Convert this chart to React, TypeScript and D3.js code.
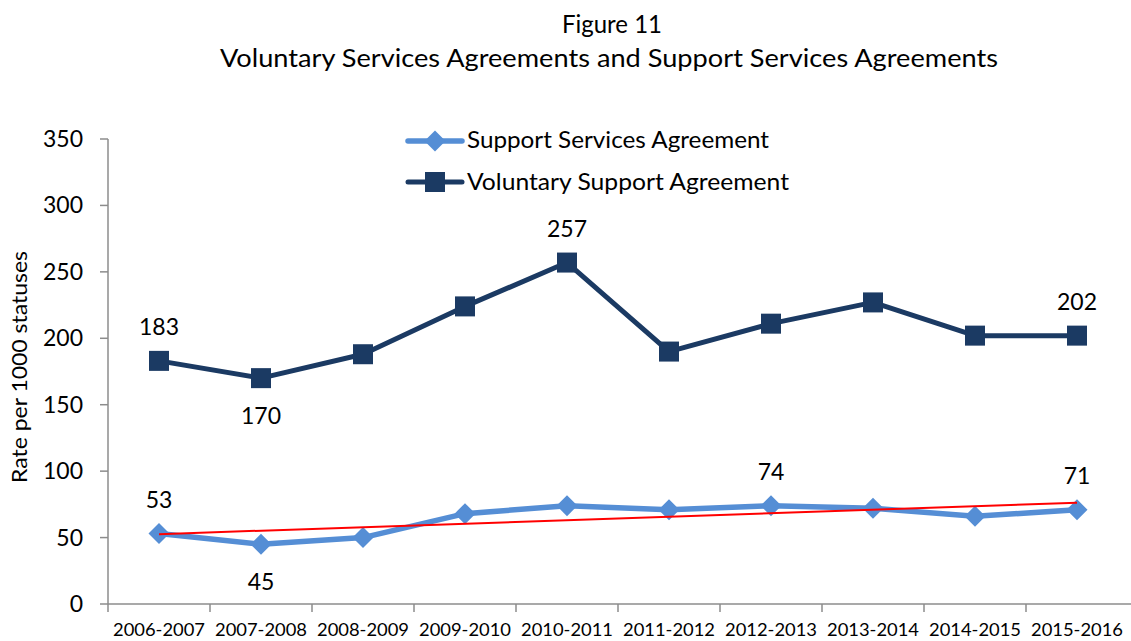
import React from "react";
import * as d3 from "d3";

const categories = [
  "2006-2007", "2007-2008", "2008-2009", "2009-2010", "2010-2011",
  "2011-2012", "2012-2013", "2013-2014", "2014-2015", "2015-2016",
];
const supportServices = [53, 45, 50, 68, 74, 71, 74, 72, 66, 71];
const voluntarySupport = [183, 170, 188, 224, 257, 190, 211, 227, 202, 202];
const yTicks = [0, 50, 100, 150, 200, 250, 300, 350];

// indices of data labels shown, and whether above or below
const vsaLabels: [number, "above" | "below"][] = [[0, "above"], [1, "below"], [4, "above"], [9, "above"]];
const ssaLabels: [number, "above" | "below"][] = [[0, "above"], [1, "below"], [6, "above"], [9, "above"]];

const FONT = "Lato, 'Open Sans', sans-serif";
const SSA_COLOR = "#558ED5";
const VSA_COLOR = "#1B3A63";
const AXIS_COLOR = "#8C8C8C";

export default function App() {
  const W = 1131, H = 641;
  const x = d3.scalePoint<string>().domain(categories).range([108, 1128]).padding(0.5);
  const y = d3.scaleLinear().domain([0, 350]).range([604, 139]);
  const step = x.step();

  const line = d3.line<number>().x((_, i) => x(categories[i])!).y((d) => y(d));

  // linear trend for support services
  const n = supportServices.length;
  const mx = d3.mean(d3.range(n))!;
  const my = d3.mean(supportServices)!;
  const sxy = d3.sum(supportServices, (v, i) => (i - mx) * (v - my));
  const sxx = d3.sum(d3.range(n), (i) => (i - mx) * (i - mx));
  const slope = sxy / sxx;
  const icpt = my - slope * mx;
  const trendStart = icpt;
  const trendEnd = icpt + slope * (n - 1);

  const diamond = (cx: number, cy: number, r: number) =>
    `M${cx},${cy - r}L${cx + r},${cy}L${cx},${cy + r}L${cx - r},${cy}Z`;

  const labelDy = (pos: "above" | "below") => (pos === "above" ? -26 : 46);

  return (
    <svg width={W} height={H} style={{ position: "absolute", left: 0, top: 0, background: "#fff" }}
      fontFamily={FONT}>
      <rect x={0} y={0} width={W} height={H} fill="#fff" />
      {/* Title */}
      <text x={612} y={33} textAnchor="middle" fontSize={25} fill="#000" textLength={100} lengthAdjust="spacingAndGlyphs">Figure 11</text>
      <text x={609} y={67} textAnchor="middle" fontSize={25} fill="#000" textLength={778} lengthAdjust="spacingAndGlyphs">
        Voluntary Services Agreements and Support Services Agreements
      </text>

      {/* Y axis */}
      <line x1={108} x2={108} y1={y(350)} y2={y(0)} stroke={AXIS_COLOR} strokeWidth={1.5} />
      {yTicks.map((t) => (
        <g key={t}>
          <line x1={100} x2={108} y1={y(t)} y2={y(t)} stroke={AXIS_COLOR} strokeWidth={1.5} />
          <text x={83} y={y(t) + 8} textAnchor="end" fontSize={23} fill="#000">{t}</text>
        </g>
      ))}
      <text transform={`translate(27,367) rotate(-90)`} textAnchor="middle" fontSize={22} fill="#000"
        textLength={232} lengthAdjust="spacingAndGlyphs">Rate per 1000 statuses</text>

      {/* X axis */}
      <line x1={108} x2={W} y1={y(0)} y2={y(0)} stroke={AXIS_COLOR} strokeWidth={1.5} />
      {categories.map((c) => (
        <line key={"t" + c} x1={x(c)! - step / 2} x2={x(c)! - step / 2} y1={y(0)} y2={y(0) + 8}
          stroke={AXIS_COLOR} strokeWidth={1.5} />
      ))}
      {categories.map((c) => (
        <text key={"l" + c} x={x(c)!} y={636} textAnchor="middle" fontSize={17.5} fill="#000"
          textLength={92} lengthAdjust="spacingAndGlyphs">{c}</text>
      ))}

      {/* Voluntary Support Agreement */}
      <path d={line(voluntarySupport)!} fill="none" stroke={VSA_COLOR} strokeWidth={5} strokeLinejoin="round" />
      {voluntarySupport.map((v, i) => (
        <rect key={"v" + i} x={x(categories[i])! - 10} y={y(v) - 10} width={20} height={20} fill={VSA_COLOR} />
      ))}

      {/* Support Services Agreement */}
      <path d={line(supportServices)!} fill="none" stroke={SSA_COLOR} strokeWidth={5.5} strokeLinejoin="round" />
      {supportServices.map((v, i) => (
        <path key={"s" + i} d={diamond(x(categories[i])!, y(v), 10.5)} fill={SSA_COLOR} />
      ))}

      {/* Trend line */}
      <line x1={x(categories[0])!} y1={y(trendStart)} x2={x(categories[n - 1])!} y2={y(trendEnd)}
        stroke="#FF0000" strokeWidth={2} />

      {/* Data labels */}
      {vsaLabels.map(([i, pos]) => (
        <text key={"vl" + i} x={x(categories[i])!} y={y(voluntarySupport[i]) + labelDy(pos)}
          textAnchor="middle" fontSize={23} fill="#000">{voluntarySupport[i]}</text>
      ))}
      {ssaLabels.map(([i, pos]) => (
        <text key={"sl" + i} x={x(categories[i])!} y={y(supportServices[i]) + labelDy(pos)}
          textAnchor="middle" fontSize={23} fill="#000">{supportServices[i]}</text>
      ))}

      {/* Legend */}
      <g>
        <line x1={408} x2={462} y1={141} y2={141} stroke={SSA_COLOR} strokeWidth={5.5} strokeLinecap="round" />
        <path d={diamond(435, 141, 10.5)} fill={SSA_COLOR} />
        <text x={467} y={148} fontSize={23} fill="#000" textLength={302} lengthAdjust="spacingAndGlyphs">Support Services Agreement</text>
        <line x1={408} x2={462} y1={182} y2={182} stroke={VSA_COLOR} strokeWidth={5} strokeLinecap="round" />
        <rect x={425} y={172} width={20} height={20} fill={VSA_COLOR} />
        <text x={467} y={190} fontSize={23} fill="#000" textLength={322} lengthAdjust="spacingAndGlyphs">Voluntary Support Agreement</text>
      </g>
    </svg>
  );
}
